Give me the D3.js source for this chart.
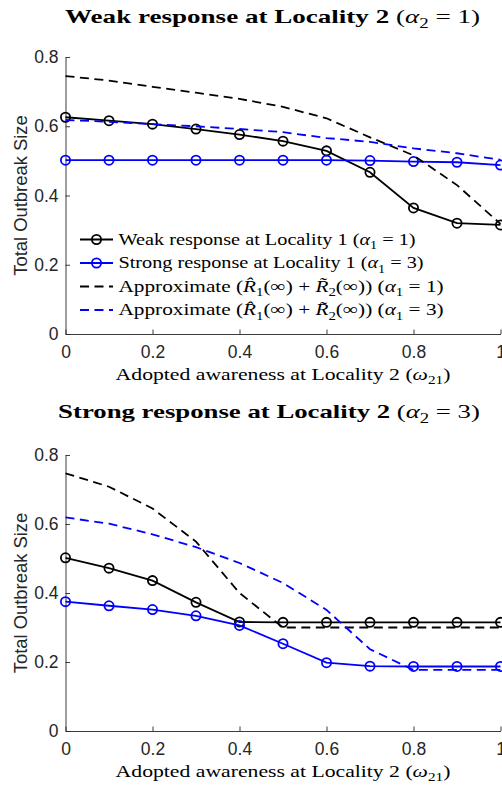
<!DOCTYPE html>
<html>
<head>
<meta charset="utf-8">
<script src="https://cdn.jsdelivr.net/npm/d3@7"></script>
<style>
html,body{margin:0;padding:0;background:#fff;overflow:hidden;}
svg{display:block;}
</style>
</head>
<body>
<svg id="chart" width="502" height="785"></svg>
<script>
// ---------------- DATA ----------------
const omega = [0, 0.1, 0.2, 0.3, 0.4, 0.5, 0.6, 0.7, 0.8, 0.9, 1.0];
const xTicks = [0, 0.2, 0.4, 0.6, 0.8, 1];
const xTickLabels = ["0", "0.2", "0.4", "0.6", "0.8", "1"];
const yTicks = [0, 0.2, 0.4, 0.6, 0.8];
const yTickLabels = ["0", "0.2", "0.4", "0.6", "0.8"];

// Top panel: weak response at Locality 2 (alpha2 = 1)
const weakTop    = [0.626, 0.616, 0.606, 0.592, 0.576, 0.557, 0.529, 0.467, 0.364, 0.320, 0.315];
const strongTop  = [0.502, 0.502, 0.502, 0.502, 0.502, 0.502, 0.502, 0.501, 0.498, 0.496, 0.488];
const approx1Top = [0.745, 0.732, 0.714, 0.697, 0.679, 0.656, 0.623, 0.568, 0.516, 0.430, 0.318];
const approx3Top = [0.618, 0.613, 0.606, 0.600, 0.592, 0.583, 0.566, 0.555, 0.536, 0.522, 0.503];

// Bottom panel: strong response at Locality 2 (alpha2 = 3)
const weakBot    = [0.502, 0.472, 0.436, 0.373, 0.316, 0.315, 0.315, 0.315, 0.315, 0.315, 0.315];
const strongBot  = [0.375, 0.363, 0.352, 0.334, 0.306, 0.253, 0.198, 0.188, 0.187, 0.187, 0.187];
const approx1Bot = [0.747, 0.708, 0.645, 0.549, 0.400, 0.300, 0.300, 0.300, 0.300, 0.300, 0.300];
const approx3Bot = [0.619, 0.601, 0.570, 0.533, 0.487, 0.429, 0.351, 0.237, 0.177, 0.177, 0.177];

const legendLabels = [
  [{t:"Weak response at Locality 1 ("},{t:"α",i:1},{t:"1",sub:1},{t:" = 1)"}],
  [{t:"Strong response at Locality 1 ("},{t:"α",i:1},{t:"1",sub:1},{t:" = 3)"}],
  [{t:"Approximate ("},{t:"R\u0302",i:1},{t:"1",sub:1},{t:"(∞) + "},{t:"R\u0303",i:1},{t:"2",sub:1},{t:"(∞)) ("},{t:"α",i:1},{t:"1",sub:1},{t:" = 1)"}],
  [{t:"Approximate ("},{t:"R\u0302",i:1},{t:"1",sub:1},{t:"(∞) + "},{t:"R\u0303",i:1},{t:"2",sub:1},{t:"(∞)) ("},{t:"α",i:1},{t:"1",sub:1},{t:" = 3)"}]
];
const titleTop = [{t:"Weak response at Locality 2 ",b:1},{t:"("},{t:"α",i:1},{t:"2",sub:1},{t:" = 1)"}];
const titleBot = [{t:"Strong response at Locality 2 ",b:1},{t:"("},{t:"α",i:1},{t:"2",sub:1},{t:" = 3)"}];
const xLabelParts = [{t:"Adopted awareness at Locality 2 ("},{t:"ω",i:1},{t:"21",sub:1},{t:")"}];
const yLabel = "Total Outbreak Size";

// ---------------- LAYOUT ----------------
const svg = d3.select("#chart");
const SERIF = "'Liberation Serif', 'Times New Roman', serif";
const SANS = "'Liberation Sans', Arial, Helvetica, sans-serif";
const AXC = "#262626";
const BLUE = "#0000ff";

const x = d3.scaleLinear().domain([0, 1]).range([65.5, 500.5]);

// rich text with optional horizontal stretch to a target width
function rich(g, px, py, anchor, parts, fs, targetW) {
  const t = g.append("text").attr("x", px).attr("y", py)
    .attr("text-anchor", anchor).attr("font-family", SERIF)
    .attr("font-size", fs).attr("fill", "#000");
  let shift = 0;
  parts.forEach(p => {
    const s = t.append("tspan").text(p.t);
    if (p.b) s.attr("font-weight", "bold");
    if (p.i) s.attr("font-style", "italic");
    if (p.sub) {
      s.attr("font-size", fs * 0.7).attr("dy", fs * 0.25 - shift);
      shift = fs * 0.25;
    } else if (shift) {
      s.attr("dy", -shift);
      shift = 0;
    }
  });
  if (targetW) {
    const w = t.node().getComputedTextLength();
    if (w > 0) {
      const k = targetW / w;
      g.attr("transform", `translate(${px},0) scale(${k},1) translate(${-px},0)`);
    }
  }
  return t;
}

function panel(yTopPx, yBotPx, series, withLegend, title, titleCx, titleY, titleW) {
  const y = d3.scaleLinear().domain([0, 0.8]).range([yBotPx, yTopPx]);
  const g = svg.append("g");

  // axes
  const ax = g.append("g").attr("transform", `translate(0,${yBotPx})`)
    .call(d3.axisBottom(x).tickValues(xTicks).tickFormat((d, i) => xTickLabels[i])
      .tickSizeInner(-4.5).tickSizeOuter(0).tickPadding(12));
  const ay = g.append("g").attr("transform", `translate(${x(0)},0)`)
    .call(d3.axisLeft(y).tickValues(yTicks).tickFormat((d, i) => yTickLabels[i])
      .tickSizeInner(-4.5).tickSizeOuter(0).tickPadding(7));
  [ax, ay].forEach(a => {
    a.select(".domain").attr("stroke", AXC).attr("stroke-width", 0.9);
    a.selectAll(".tick line").attr("stroke", AXC).attr("stroke-width", 0.9);
    a.selectAll(".tick text").attr("fill", AXC).attr("font-family", SANS).attr("font-size", 17.5);
  });

  // y label
  g.append("text")
    .attr("transform", `translate(27,${(yTopPx + yBotPx) / 2}) rotate(-90)`)
    .attr("text-anchor", "middle").attr("font-family", SANS).attr("font-size", 18.4)
    .attr("fill", AXC).text(yLabel);

  // x label
  rich(g.append("g"), 283, yBotPx + 46, "middle", xLabelParts, 17.5, 335);

  // title
  rich(g.append("g"), titleCx, titleY, "middle", title, 19.5, titleW);

  // series
  const line = d3.line().x((d, i) => x(omega[i])).y(d => y(d));
  series.forEach(s => {
    g.append("path").datum(s.v).attr("d", line).attr("fill", "none")
      .attr("stroke", s.c).attr("stroke-width", 1.8)
      .attr("stroke-dasharray", s.dash ? "9,5.5" : null);
    if (s.m) {
      g.selectAll(null).data(s.v).enter().append("circle")
        .attr("cx", (d, i) => x(omega[i])).attr("cy", d => y(d)).attr("r", 4.6)
        .attr("fill", "none").attr("stroke", s.c).attr("stroke-width", 1.8);
    }
  });

  if (withLegend) {
    const ly = [239.5, 263, 286.5, 310];
    const lw = [297, 305, 325, 325];
    series.forEach((s, k) => {
      const lg = g.append("g");
      lg.append("line").attr("x1", 80).attr("x2", 113).attr("y1", ly[k]).attr("y2", ly[k])
        .attr("stroke", s.c).attr("stroke-width", 1.8)
        .attr("stroke-dasharray", s.dash ? "9,5.5" : null);
      if (s.m) lg.append("circle").attr("cx", 96.5).attr("cy", ly[k]).attr("r", 4.6)
        .attr("fill", "none").attr("stroke", s.c).attr("stroke-width", 1.8);
      rich(lg.append("g"), 118.5, ly[k] + 5.5, "start", legendLabels[k], 16.8, lw[k]);
    });
  }
}

panel(57, 334, [
  {v: weakTop, c: "#000", m: 1},
  {v: strongTop, c: BLUE, m: 1},
  {v: approx1Top, c: "#000", dash: 1},
  {v: approx3Top, c: BLUE, dash: 1}
], true, titleTop, 272.5, 23, 415);

panel(455, 731, [
  {v: weakBot, c: "#000", m: 1},
  {v: strongBot, c: BLUE, m: 1},
  {v: approx1Bot, c: "#000", dash: 1},
  {v: approx3Bot, c: BLUE, dash: 1}
], false, titleBot, 269, 418, 422);
</script>
</body>
</html>
